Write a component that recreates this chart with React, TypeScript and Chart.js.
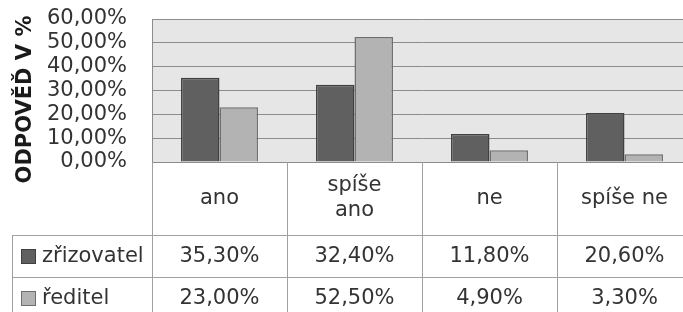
import React, { useEffect, useRef } from "react";
import { Chart, registerables } from "chart.js";

Chart.register(...registerables);

const categories: (string | string[])[] = ["ano", ["spíše", "ano"], "ne", "spíše ne"];
const seriesNames = ["zřizovatel", "ředitel"];
const zrizovatel = [35.3, 32.4, 11.8, 20.6];
const reditel = [23.0, 52.5, 4.9, 3.3];
const yTicks = [0, 10, 20, 30, 40, 50, 60];
const axisTitle = "ODPOVĚĎ V %";

const fills = ["#606060", "#b3b3b3"];
const borders = ["#404040", "#6e6e6e"];
const FONT = "'DejaVu Sans', sans-serif";
const TEXT = "#333333";

const fmt = (v: number) => v.toFixed(2).replace(".", ",") + "%";

const bgPlugin = {
  id: "plotBg",
  beforeDraw(chart: any) {
    const { ctx, chartArea: a } = chart;
    ctx.save();
    ctx.fillStyle = "#e6e6e6";
    ctx.fillRect(a.left, a.top, a.right - a.left, a.bottom - a.top);
    ctx.restore();
  },
};

const tablePlugin = {
  id: "dataTable",
  afterDraw(chart: any) {
    const { ctx, chartArea: a, scales } = chart;
    const x = scales.x;
    const H = chart.height;
    const n = categories.length;
    const colW = (a.right - a.left) / n;
    const top = Math.round(a.bottom);
    const headerBottom = top + 73;
    const rowH = 42;
    const tableLeft = 12;
    const series = [zrizovatel, reditel];

    ctx.save();
    ctx.strokeStyle = "#a0a0a0";
    ctx.lineWidth = 1;
    ctx.beginPath();
    for (let i = 0; i <= n; i++) {
      const px = Math.round(a.left + i * colW) + 0.5;
      ctx.moveTo(px, top);
      ctx.lineTo(px, H);
    }
    ctx.moveTo(tableLeft + 0.5, headerBottom);
    ctx.lineTo(tableLeft + 0.5, H);
    for (let r = 0; r <= series.length; r++) {
      const py = headerBottom + r * rowH + 0.5;
      ctx.moveTo(tableLeft, py);
      ctx.lineTo(a.right, py);
    }
    ctx.stroke();

    ctx.fillStyle = TEXT;
    ctx.font = `21px ${FONT}`;
    ctx.textAlign = "center";
    ctx.textBaseline = "middle";
    const hc = (top + headerBottom) / 2;
    categories.forEach((c, i) => {
      const cx = x.getPixelForValue(i);
      const lines = Array.isArray(c) ? c : [c];
      const lh = 25;
      lines.forEach((ln, k) => {
        const cy = hc + (k - (lines.length - 1) / 2) * lh;
        ctx.fillText(ln, cx, cy);
      });
    });

    series.forEach((vals, r) => {
      const cy = headerBottom + r * rowH + rowH / 2 + 1;
      ctx.textAlign = "center";
      ctx.fillStyle = TEXT;
      vals.forEach((v, i) => {
        ctx.fillText(fmt(v), x.getPixelForValue(i), cy);
      });
      ctx.fillStyle = fills[r];
      ctx.fillRect(21, cy - 8, 15, 15);
      ctx.strokeStyle = borders[r];
      ctx.strokeRect(21.5, cy - 7.5, 14, 14);
      ctx.fillStyle = TEXT;
      ctx.textAlign = "left";
      ctx.fillText(seriesNames[r], 42, cy);
    });

    ctx.save();
    ctx.translate(31, 99.5);
    ctx.rotate(-Math.PI / 2);
    ctx.font = `bold 21px ${FONT}`;
    ctx.textAlign = "center";
    ctx.textBaseline = "alphabetic";
    ctx.fillStyle = "#1a1a1a";
    ctx.fillText(axisTitle, 0, 0);
    ctx.restore();

    ctx.restore();
  },
};

export default function App() {
  const ref = useRef<HTMLCanvasElement>(null);
  useEffect(() => {
    if (!ref.current) return;
    const chart = new Chart(ref.current, {
      type: "bar",
      data: {
        labels: categories.map((c) => (Array.isArray(c) ? c.join(" ") : c)),
        datasets: [
          {
            label: seriesNames[0],
            data: zrizovatel,
            backgroundColor: fills[0],
            borderColor: borders[0],
            borderWidth: 1.5,
            categoryPercentage: 0.57,
            barPercentage: 1,
          },
          {
            label: seriesNames[1],
            data: reditel,
            backgroundColor: fills[1],
            borderColor: borders[1],
            borderWidth: 1.5,
            categoryPercentage: 0.57,
            barPercentage: 1,
          },
        ],
      },
      options: {
        animation: false,
        responsive: false,
        devicePixelRatio: 1,
        layout: { padding: { left: 0, top: 19, right: 8, bottom: 150 } },
        plugins: { legend: { display: false }, tooltip: { enabled: false } },
        scales: {
          x: { display: false },
          y: {
            min: 0,
            max: 60,
            afterBuildTicks: (s: any) => {
              s.ticks = yTicks.map((v) => ({ value: v }));
            },
            afterFit: (s: any) => {
              s.width = 152;
              s.paddingTop = 0;
              s.paddingBottom = 0;
            },
            ticks: {
              autoSkip: false,
              callback: (v: any) => fmt(Number(v)),
              color: TEXT,
              font: { family: FONT, size: 21, lineHeight: 1 },
              padding: 25,
            },
            grid: { color: "#8c8c8c", drawTicks: false, lineWidth: 1 },
            border: { color: "#8c8c8c" },
          },
        },
      },
      plugins: [bgPlugin, tablePlugin],
    });
    return () => chart.destroy();
  }, []);
  return (
    <div
      style={{
        position: "fixed",
        left: 0,
        top: 0,
        width: 683,
        height: 312,
        overflow: "hidden",
        background: "#ffffff",
      }}
    >
      <canvas ref={ref} width={700} height={312} style={{ display: "block" }} />
    </div>
  );
}
